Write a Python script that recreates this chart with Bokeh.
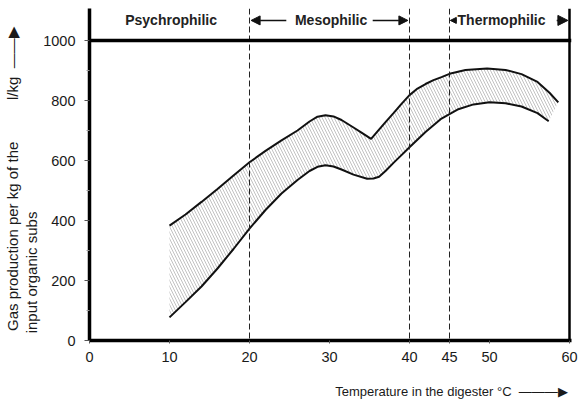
from bokeh.plotting import figure
from bokeh.models import Range1d, FixedTicker, Span, Label, Arrow, NormalHead, LinearAxis
from bokeh.embed import file_html
from bokeh.resources import INLINE

# ---- data ----
upper_x = [10, 12, 14, 16, 18, 20, 22, 24, 26, 27.5, 28.5, 29.5, 30.5, 31.5, 33, 34, 35.2,
           36, 37, 38, 39, 40, 41, 42, 43, 44, 45, 47, 49.7, 52, 54, 56, 57.5, 58.6]
upper_y = [383, 420, 462, 505, 550, 594, 632, 667, 700, 730, 746, 751, 747, 735, 710, 693, 672,
           697, 728, 758, 789, 818, 840, 855, 868, 878, 889, 902, 907, 902, 888, 862, 826, 794]

lower_x = [10, 12, 14, 16, 18, 20, 22, 24, 26, 27.5, 28.5, 29.5, 30.5, 31.5, 33, 34.7, 35.5,
           36.2, 37, 38, 39, 40, 42, 44, 46, 48, 50, 52, 54, 56, 57.4]
lower_y = [77, 128, 180, 240, 305, 373, 435, 490, 535, 565, 579, 584, 580, 570, 553, 539, 540,
           546, 565, 592, 618, 644, 695, 740, 770, 787, 794, 791, 780, 758, 731]

x_ticks = [0, 10, 20, 30, 40, 45, 50, 60]
y_ticks = [0, 200, 400, 600, 800, 1000]
y_minor = [100, 300, 500, 700, 900]
boundaries = [20, 40, 45]
zone_names = ["Psychrophilic", "Mesophilic", "Thermophilic"]
zone_centers = [10.2, 30.2, 51.5]
NB = "\u00a0"
ARROW = "\u2014\u2014\u25b6"
y_title_outer = "Gas production per kg of the" + NB * 10 + "l/kg" + NB * 2 + ARROW + NB * 2
y_title_inner = "input organic subs" + NB * 47
x_title = NB * 67 + "Temperature in the digester \u00b0C" + NB * 2 + "\u2014\u2014\u2014\u25b6"

FONT = "Liberation Sans"

p = figure(width=579, height=405, output_backend="svg", toolbar_location=None,
           x_range=Range1d(0, 60.25), y_range=Range1d(0, 1106.7),
           min_border_left=88, min_border_right=8, min_border_top=8,
           min_border_bottom=65)
p.outline_line_color = None
p.xgrid.visible = False
p.ygrid.visible = False
p.background_fill_color = "white"

# axes
for ax in (p.xaxis, p.yaxis):
    ax.axis_line_width = 3.5
    ax.axis_line_color = "black"
    ax.major_tick_line_color = "#555555"
    ax.major_tick_line_width = 1
    ax.major_tick_in = 0
    ax.major_label_text_font = FONT
    ax.major_label_text_font_size = "14.5px"
    ax.major_label_text_color = "#1a1a1a"
    ax.axis_label_text_font = FONT
    ax.axis_label_text_font_style = "normal"
    ax.axis_label_text_color = "#1a1a1a"
p.xaxis.ticker = FixedTicker(ticks=x_ticks)
p.yaxis.ticker = FixedTicker(ticks=y_ticks, minor_ticks=y_minor)
p.xaxis.major_tick_out = 3
p.yaxis.major_tick_out = 5
p.xaxis.minor_tick_line_color = None
p.yaxis.minor_tick_line_color = "#999999"
p.yaxis.minor_tick_out = 3
p.yaxis.minor_tick_in = 0
p.xaxis.major_label_standoff = 8
p.yaxis.major_label_standoff = 9

p.xaxis.axis_label = x_title
p.xaxis.axis_label_standoff = 19
p.xaxis.axis_label_text_font_size = "13px"
p.yaxis.axis_label = y_title_inner
p.yaxis.axis_label_standoff = 0
p.yaxis.axis_label_text_font_size = "15px"

outer = LinearAxis(ticker=FixedTicker(ticks=[]), axis_line_color=None,
                   major_tick_line_color=None, minor_tick_line_color=None,
                   axis_label=y_title_outer, axis_label_standoff=0,
                   axis_label_text_font=FONT, axis_label_text_font_size="15px",
                   axis_label_text_font_style="normal", axis_label_text_color="#1a1a1a")
p.add_layout(outer, "left")

# band
band_x = upper_x + lower_x[::-1]
band_y = upper_y + lower_y[::-1]
p.patch(band_x, band_y, fill_color="white", line_color=None,
        hatch_pattern="left_diagonal_line", hatch_color="#999999",
        hatch_scale=6, hatch_weight=1, hatch_alpha=0.6)
p.line(upper_x, upper_y, line_color="#111111", line_width=2)
p.line(lower_x, lower_y, line_color="#111111", line_width=2)

# structure lines
for b in boundaries:
    p.add_layout(Span(location=b, dimension="height", line_color="#222222",
                      line_width=1, line_dash="6 3"))
p.add_layout(Span(location=60, dimension="height", line_color="black", line_width=2.5))
p.add_layout(Span(location=1000, dimension="width", line_color="black", line_width=3.5))

# zone labels
for name, cx in zip(zone_names, zone_centers):
    p.add_layout(Label(x=cx, y=1067, text=name, text_font=FONT, text_font_size="14px",
                       text_font_style="bold", text_color="#222222",
                       text_align="center", text_baseline="middle"))

def arrow(x0, y0, x1, y1, size, width=1.5):
    p.add_layout(Arrow(end=NormalHead(size=size, fill_color="#111111", line_color="#111111"),
                       x_start=x0, y_start=y0, x_end=x1, y_end=y1,
                       line_color="#111111", line_width=width))

arrow(24.6, 1067, 20.2, 1067, 9)
arrow(35.4, 1067, 39.8, 1067, 9)
arrow(45.9, 1067, 45.1, 1067, 6)
arrow(58.4, 1067, 59.8, 1067, 10)

open("out.html", "w").write(file_html(p, INLINE))
